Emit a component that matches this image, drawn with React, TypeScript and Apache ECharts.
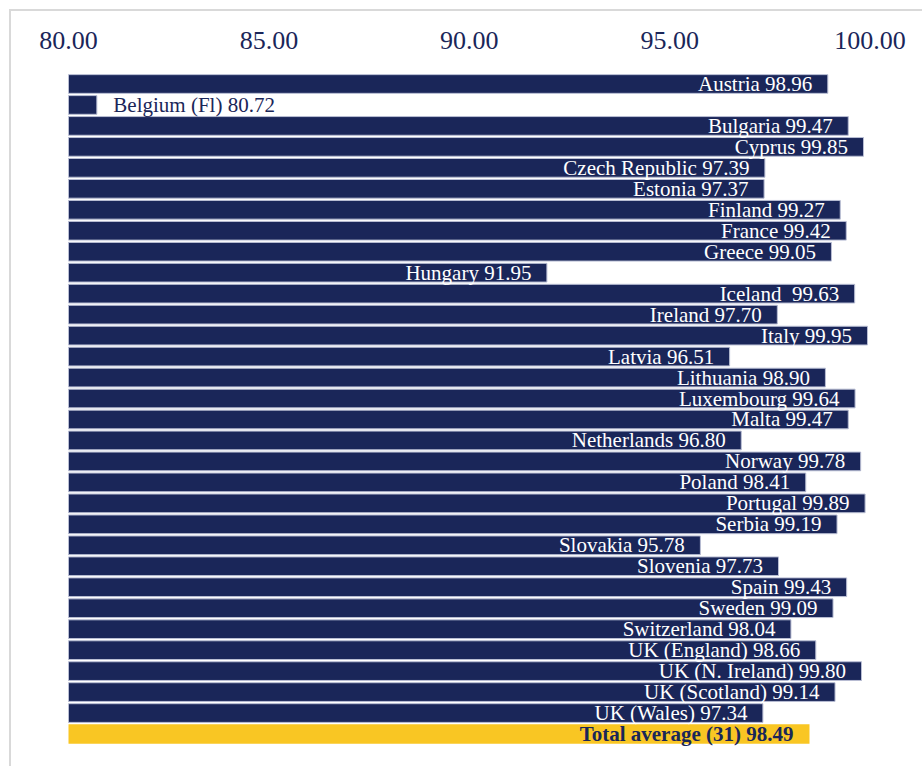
import React, { useEffect, useRef } from "react";
import * as echarts from "echarts";

const countries = [
  "Austria", "Belgium (Fl)", "Bulgaria", "Cyprus", "Czech Republic", "Estonia",
  "Finland", "France", "Greece", "Hungary", "Iceland ", "Ireland", "Italy",
  "Latvia", "Lithuania", "Luxembourg", "Malta", "Netherlands", "Norway",
  "Poland", "Portugal", "Serbia", "Slovakia", "Slovenia", "Spain", "Sweden",
  "Switzerland", "UK (England)", "UK (N. Ireland)", "UK (Scotland)", "UK (Wales)",
  "Total average (31)",
];

const values = [
  98.96, 80.72, 99.47, 99.85, 97.39, 97.37, 99.27, 99.42, 99.05, 91.95, 99.63,
  97.7, 99.95, 96.51, 98.9, 99.64, 99.47, 96.8, 99.78, 98.41, 99.89, 99.19,
  95.78, 97.73, 99.43, 99.09, 98.04, 98.66, 99.8, 99.14, 97.34, 98.49,
];

const axisMin = 80;
const axisMax = 100;
const axisStep = 5;

const NAVY = "#1a2659";
const YELLOW = "#f9c623";
const FONT = "'Liberation Serif', 'Times New Roman', serif";

export default function App() {
  const ref = useRef<HTMLDivElement>(null);
  useEffect(() => {
    if (!ref.current) return;
    const chart = echarts.init(ref.current, undefined, { renderer: "svg" });
    const last = countries.length - 1;
    const data = values.map((v, i) => {
      const isTotal = i === last;
      const isShort = v - axisMin < 3;
      return {
        value: v,
        itemStyle: isTotal
          ? { color: YELLOW, borderWidth: 0 }
          : { color: NAVY, borderColor: "#b9bed4", borderWidth: 1 },
        label: isTotal
          ? { position: "insideRight", color: NAVY, fontWeight: "bold", distance: 16 }
          : isShort
          ? { position: "right", color: NAVY, distance: 16 }
          : { position: "insideRight", color: "#ffffff", distance: 16 },
      };
    });
    chart.setOption({
      animation: false,
      graphic: [
        {
          type: "rect",
          shape: { x: 10, y: 10, width: 1200, height: 1200 },
          style: { fill: "none", stroke: "#d9d9d9", lineWidth: 2 },
          silent: true,
          z: -10,
        },
      ],
      grid: { left: 68.5, width: 801.5, top: 73.5, height: 671, containLabel: false },
      xAxis: {
        type: "value",
        position: "top",
        min: axisMin,
        max: axisMax,
        interval: axisStep,
        axisLine: { show: false },
        axisTick: { show: false },
        splitLine: { show: false },
        axisLabel: {
          margin: 20,
          fontSize: 26,
          fontFamily: FONT,
          color: NAVY,
          formatter: (v: number) => v.toFixed(2),
        },
      },
      yAxis: {
        type: "category",
        inverse: true,
        data: countries,
        axisLine: { show: false },
        axisTick: { show: false },
        axisLabel: { show: false },
        splitLine: { show: false },
      },
      series: [
        {
          type: "bar",
          data,
          barCategoryGap: "6%",
          label: {
            show: true,
            fontSize: 21,
            fontFamily: FONT,
            formatter: (p: any) => `${countries[p.dataIndex]} ${values[p.dataIndex].toFixed(2)}`,
          },
        },
      ],
    });
    return () => chart.dispose();
  }, []);
  return (
    <div
      ref={ref}
      style={{ position: "absolute", left: 0, top: 0, width: 922, height: 766, background: "#fff" }}
    />
  );
}
